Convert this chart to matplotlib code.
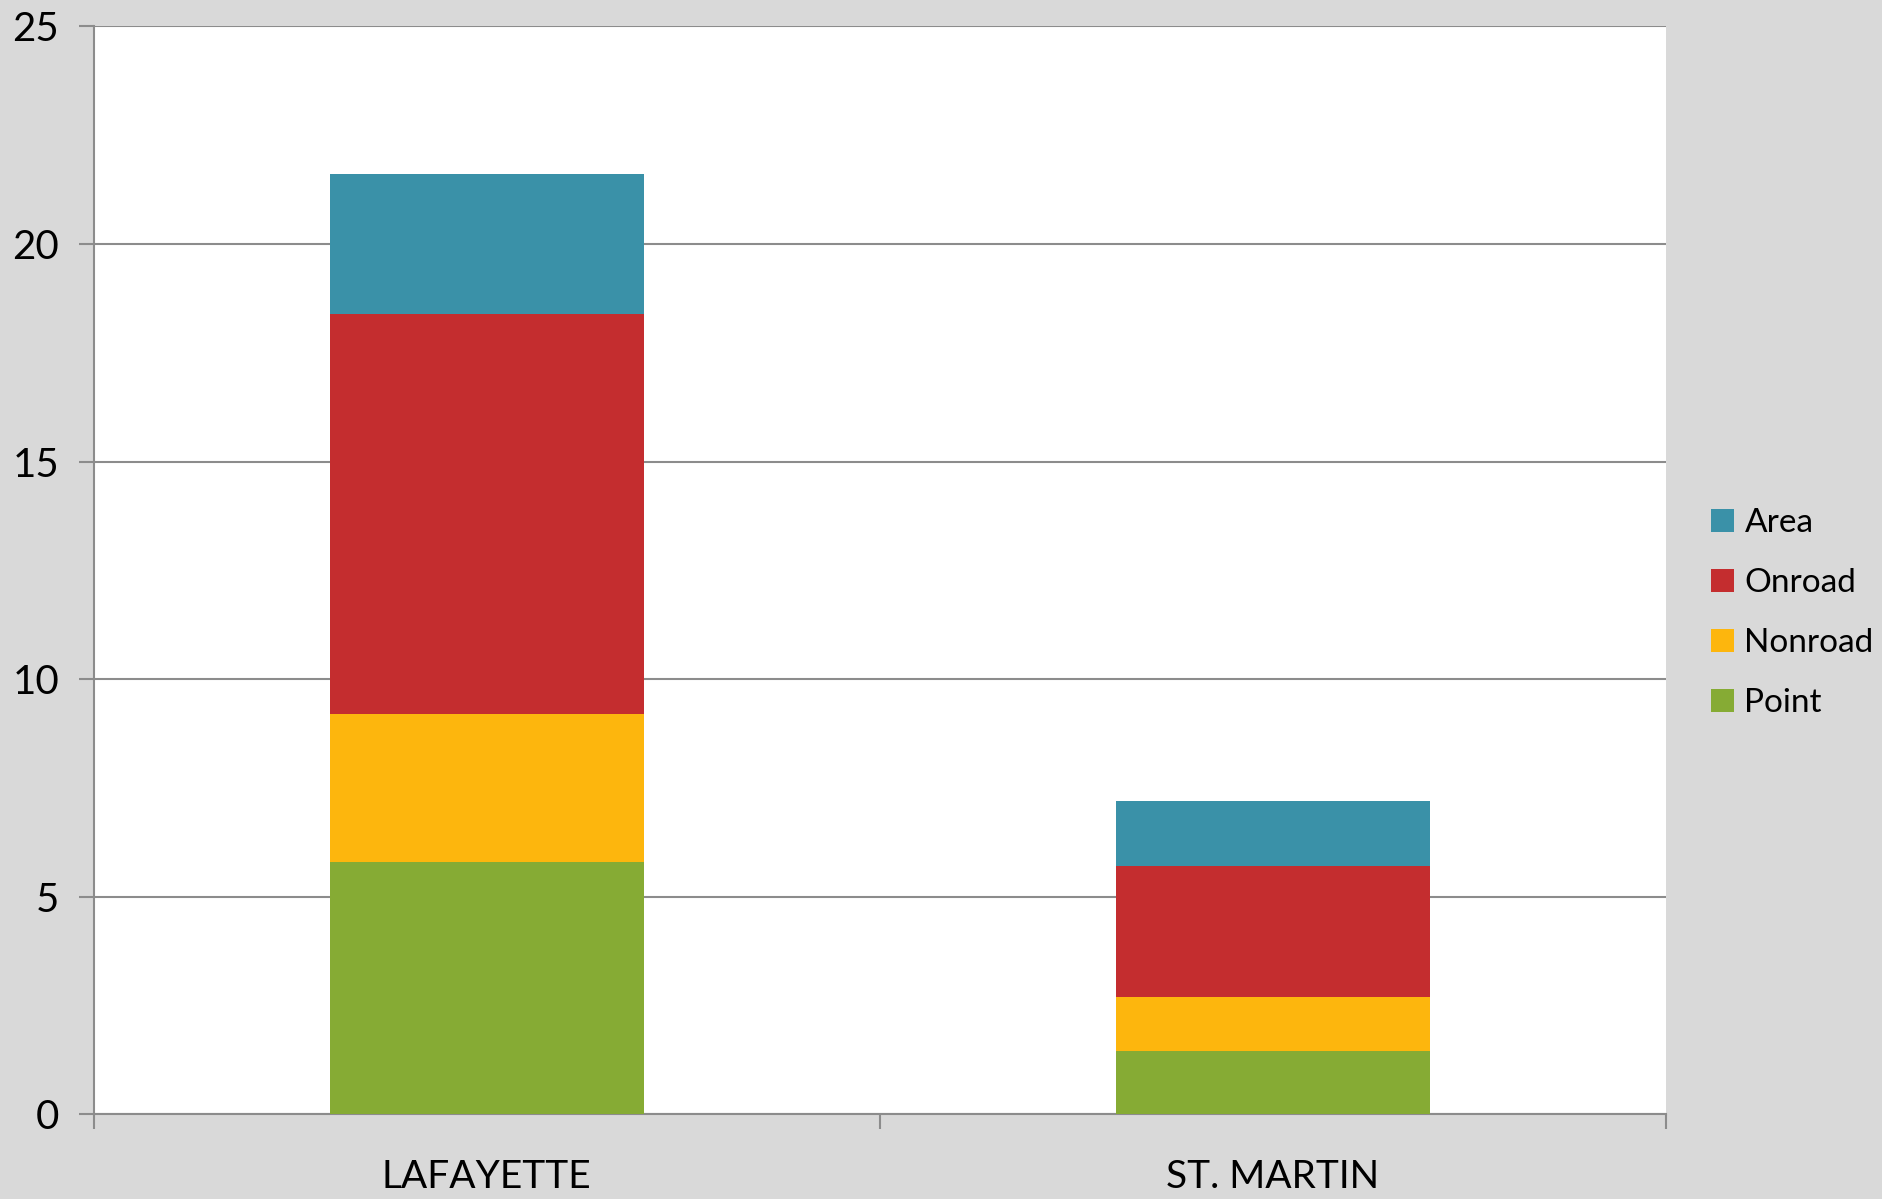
import numpy as np
import matplotlib
matplotlib.use("Agg")
import matplotlib.pyplot as plt
from matplotlib.patches import Patch

# --- data ---
counties = ["LAFAYETTE", "ST. MARTIN"]
point = [5.8, 1.46]
nonroad = [3.4, 1.24]
onroad = [9.2, 3.01]
area = [3.2, 1.49]

series_names = ["Point", "Nonroad", "Onroad", "Area"]
series_vals = [point, nonroad, onroad, area]
colors = ["#86AB34", "#FDB60D", "#C42D2F", "#3A91A8"]
y_ticks = [0, 5, 10, 15, 20, 25]

plt.rcParams["font.family"] = ["Lato", "DejaVu Sans"]
BG = "#D9D9D9"
GRID = "#8C8C8C"

fig = plt.figure(figsize=(18.83, 11.99), dpi=100, facecolor=BG)
ax = fig.add_axes([0.0498, 0.0706, 0.8348, 0.9074])
ax.set_facecolor("white")

x = np.arange(len(counties))
bottom = np.zeros(len(counties))
for name, vals, c in zip(series_names, series_vals, colors):
    ax.bar(x, vals, width=0.4, bottom=bottom, color=c, label=name, zorder=3)
    bottom += np.array(vals)

ax.set_xlim(-0.5, len(counties) - 0.5)
ax.set_ylim(0, 25)
ax.set_yticks(y_ticks)
ax.set_yticklabels([str(t) for t in y_ticks], fontsize=29)
ax.yaxis.grid(True, color=GRID, linewidth=1.5, zorder=0)

ax.set_xticks(x)
ax.set_xticklabels(counties, fontsize=28)
ax.tick_params(axis="x", which="major", length=0, pad=32)
ax.set_xticks(np.arange(-0.5, len(counties)), minor=True)
ax.tick_params(axis="x", which="minor", length=11, width=1.5, color=GRID, direction="out")
ax.tick_params(axis="y", length=11, width=1.5, color=GRID, pad=14)

for side in ["top", "right"]:
    ax.spines[side].set_visible(False)
for side in ["left", "bottom"]:
    ax.spines[side].set_color(GRID)
    ax.spines[side].set_linewidth(1.5)

# legend, top entry Area
handles = [Patch(facecolor=c, label=n) for n, c in zip(series_names, colors)][::-1]
leg = fig.legend(handles=handles, loc="center left", bbox_to_anchor=(0.9087, 0.4887),
                 bbox_transform=fig.transFigure, frameon=False, fontsize=24,
                 handlelength=0.7, handleheight=0.7, handletextpad=0.3,
                 labelspacing=0.9, borderpad=0, borderaxespad=0)

fig.savefig("out.png", dpi=100, facecolor=BG)
